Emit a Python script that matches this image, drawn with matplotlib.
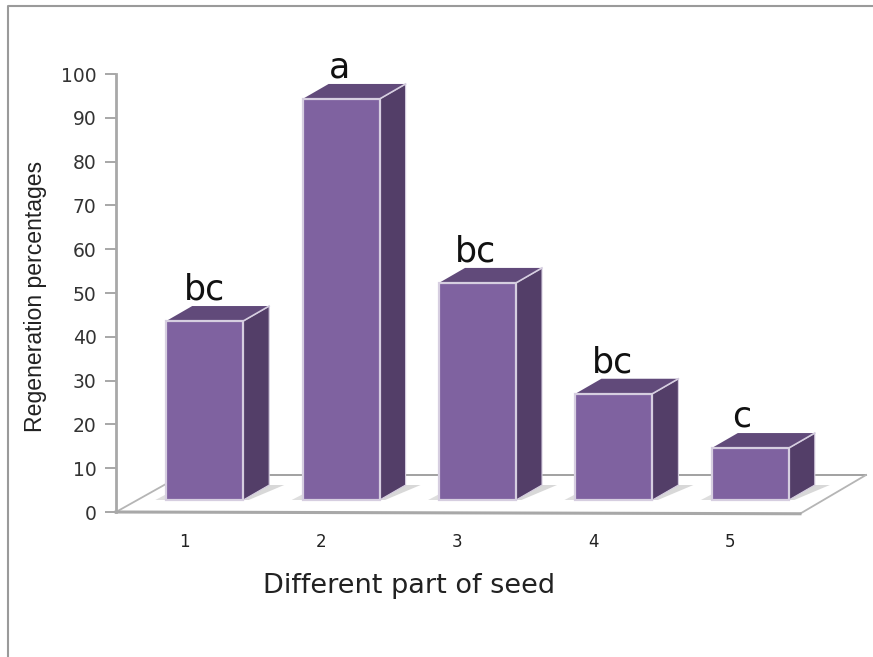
import matplotlib
matplotlib.use("Agg")
import matplotlib.pyplot as plt
from matplotlib.patches import Polygon, Rectangle

plt.rcParams["font.family"] = ["DejaVu Sans"]

categories = [1, 2, 3, 4, 5]
values = [43.6, 94.3, 52.3, 27.0, 14.6]
letters = ["bc", "a", "bc", "bc", "c"]
y_ticks = list(range(0, 101, 10))
letter_shift_px = [0, -2, -2, -1, -9]

W, H = 873, 657
fig = plt.figure(figsize=(W / 100, H / 100), dpi=100, facecolor="white")
ax = fig.add_axes([116 / W, (H - 512) / H, 684 / W, 438 / H])
UNIT = 136.4
ax.set_xlim(0.5, 0.5 + 684 / UNIT)
ax.set_ylim(0, 100)

PX_X = 1 / UNIT
PX_Y = 100 / 438
depth_x, depth_y = 26 * PX_X, 15 * PX_Y
floor_dx, floor_dy = 66 * PX_X, 37 * PX_Y
base = 12 * PX_Y
bar_w = 77 * PX_X
bar_off = 20.5 * PX_X
x0, x1 = ax.get_xlim()

ax.patch.set_visible(False)
for s in ["top", "right", "bottom"]:
    ax.spines[s].set_visible(False)
ax.spines["left"].set_color("#a8a8a8")
ax.spines["left"].set_linewidth(2)
ax.set_yticks(y_ticks)
ax.set_xticks(categories)
ax.tick_params(axis="y", length=8, width=1.3, color="#a0a0a0", labelsize=13.5,
               labelcolor="#333333", pad=6)
ax.tick_params(axis="x", length=0, labelsize=12, labelcolor="#222222", pad=15)
ax.set_xlabel("Different part of seed", fontsize=19.5, color="#222222")
ax.xaxis.set_label_coords((409 - 116) / 684, -(586 - 512) / 438)
ax.xaxis.label.set_verticalalignment("center")
ax.set_ylabel("Regeneration percentages", fontsize=16.6,
              family=["Liberation Sans Narrow", "Liberation Sans"], color="#222222")
ax.yaxis.set_label_coords(-(116 - 36) / 684, (512 - 296) / 438)
ax.yaxis.label.set_verticalalignment("center")

# floor
ax.add_patch(Polygon([(x0, 0), (x1, -0.4), (x1 + floor_dx, floor_dy),
                      (x0 + floor_dx, floor_dy)], closed=True, fc="white", ec="none",
                     clip_on=False, zorder=1))
ax.plot([x0, x0 + floor_dx], [0, floor_dy], color="#b5b5b5", lw=1.3, clip_on=False, zorder=2)
ax.plot([x0 + floor_dx, x1 + floor_dx], [floor_dy, floor_dy], color="#9a9a9a", lw=1.3,
        clip_on=False, zorder=2)
ax.plot([x1, x1 + floor_dx], [-0.4, floor_dy], color="#b5b5b5", lw=1.3, clip_on=False, zorder=2)
ax.plot([x0, x1], [0, -0.4], color="#a8a8a8", lw=2.2, clip_on=False, zorder=2)

FRONT, SIDE, TOP, EDGE = "#7F62A0", "#533E68", "#614A7A", "#D6CEE0"
for cat, val, lab, shift in zip(categories, values, letters, letter_shift_px):
    l = cat + bar_off - bar_w / 2
    r = l + bar_w
    # floor shadow
    ax.add_patch(Polygon([(r, base), (r + depth_x, base + depth_y),
                          (r + depth_x + 0.11, base + depth_y), (r + 0.04, base)],
                         closed=True, fc="#d8d8d8", ec="none", clip_on=False, zorder=3))
    ax.add_patch(Polygon([(l - 0.08, base), (l, base + 1.3), (l, base)],
                         closed=True, fc="#dedede", ec="none", clip_on=False, zorder=3))
    ax.add_patch(Polygon([(r, base), (r + depth_x, base + depth_y),
                          (r + depth_x, val + depth_y), (r, val)],
                         closed=True, fc=SIDE, ec=EDGE, lw=0.8, clip_on=False, zorder=4))
    ax.add_patch(Polygon([(l, val), (r, val), (r + depth_x, val + depth_y),
                          (l + depth_x, val + depth_y)],
                         closed=True, fc=TOP, ec="none", clip_on=False, zorder=4))
    ax.plot([r, r + depth_x], [val, val + depth_y], color=EDGE, lw=1.2, clip_on=False, zorder=5)
    ax.add_patch(Rectangle((l, base), bar_w, val - base, fc=FRONT, ec=EDGE, lw=1.6,
                           clip_on=False, zorder=5))
    ax.annotate(lab, (cat + bar_off + shift * PX_X, val + depth_y), xytext=(0, 4.5),
                textcoords="offset points", ha="center", va="baseline", fontsize=25,
                color="#111111", annotation_clip=False, zorder=6)

# outer frame
fig.add_artist(plt.Line2D([8 / W, 8 / W, 1], [0, 1 - 6 / H, 1 - 6 / H],
                          color="#9a9a9a", lw=1.5))
fig.savefig("out.png", dpi=100)
